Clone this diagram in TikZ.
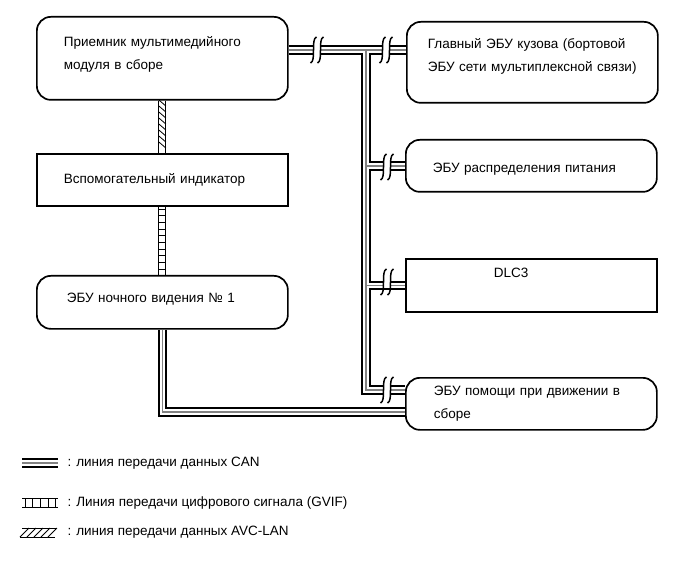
\documentclass[tikz,border=0pt]{standalone}
\usepackage{fontspec}
\setmainfont{Liberation Sans}
\usepackage{tikz}
\definecolor{lgray}{RGB}{130, 130, 130}

\tikzset{
	box/.style = {draw, line width = 1.7pt, anchor = north west, minimum width = 251pt, align = left, font = \fontsize{13.5}{23.5}\selectfont},
	rbox/.style = {box, rounded corners = 14pt},
	txt/.style = {anchor = west, font = \fontsize{13.5}{16}\selectfont},
	canout/.style = {line width = 9.4pt, draw = black},
	canmid/.style = {line width = 5.4pt, draw = white},
	cancore/.style = {line width = 1.4pt, draw = lgray}
}

% CAN bus, drawn in three passes so the junctions merge
\newcommand{\canlines}[1]{
	\draw[#1] (rcv.east |- bt) -- (body.west |- bt);
	\draw[#1] (bt) |- (asst.west |- ab);
	\draw[#1] (bt |- pwr.west) -- (pwr.west);
	\draw[#1] (bt |- dlc.west) -- (dlc.west);
	\draw[#1] (nv.south) |- (asst.west |- nb);
}

\begin{document}
\begin{tikzpicture}[x = 1pt, y = -1pt]
			\useasboundingbox (0,0) rectangle (691,564);
			\node (rcv) at (36,16) [rbox, text width = 197pt, inner xsep = 27pt, minimum height = 83pt, text depth = 34.5pt] {Приемник мультимедийного\\модуля в сборе};
			\node (aux) at (36,153) [box, text width = 197pt, inner xsep = 27pt, minimum height = 52pt] {Вспомогательный индикатор};
			\node (nv) at (36,275) [rbox, text width = 191pt, inner xsep = 30pt, minimum height = 53pt, text depth = 9pt] {ЭБУ ночного видения № 1};
			\node (body) at (406,21) [rbox, text width = 209pt, inner xsep = 21pt, minimum height = 81pt, text depth = 38.5pt] {Главный ЭБУ кузова (бортовой\\ЭБУ сети мультиплексной связи)};
			\node (pwr) at (405,139) [rbox, text width = 197pt, inner xsep = 27pt, minimum height = 52pt, text height = 17pt] {ЭБУ распределения питания};
			\node (dlc) at (405,258) [box, text width = 197pt, inner xsep = 27pt, minimum height = 53pt, text depth = 25pt] {\hspace*{61pt}DLC3};
			\node (asst) at (405,377) [rbox, text width = 195pt, inner xsep = 28pt, minimum height = 52pt] {ЭБУ помощи при движении в\\сборе};

			\coordinate (bt) at (366,50);
			\coordinate (ab) at (0,390);
			\coordinate (nb) at (0,412);

			\canlines{canout}
			\canlines{canmid}
			\canlines{cancore}

			% breaks in the CAN lines
			\foreach \bx/\by in {317/50, 386/50, 387/167, 387/282, 387/390} {
				\fill[white] (\bx-3.5,\by-5.5) rectangle (\bx+3.5,\by+5.5);
				\foreach \d in {-3.5, 3.5}
					\draw[line width = 1.5pt] (\bx+\d+3,\by-13) .. controls (\bx+\d-3,\by-11) and (\bx+\d+3,\by+11) .. (\bx+\d-3,\by+13);
			}

			% AVC-LAN
			\draw[line width = 0.8pt] (rcv.south) ++(-3.5,0) coordinate (a1) -- (a1 |- aux.north);
			\draw[line width = 0.8pt] (rcv.south) ++(3.5,0) coordinate (a2) -- (a2 |- aux.north);
			\foreach \y in {100,106,...,146}
				\draw[line width = 0.8pt] (a1 |- 0,\y) -- (a2 |- 0,\y+6);

			% GVIF
			\draw[line width = 0.8pt] (aux.south) ++(-3.5,0) coordinate (g1) -- (g1 |- nv.north);
			\draw[line width = 0.8pt] (aux.south) ++(3.5,0) coordinate (g2) -- (g2 |- nv.north);
			\foreach \y in {209,215.7,...,272}
				\draw[line width = 0.8pt] (g1 |- 0,\y) -- (g2 |- 0,\y);

			% legend
			\draw[line width = 1.8pt] (22,459) -- (58,459);
			\draw[line width = 1.1pt, lgray] (22,463) -- (58,463);
			\draw[line width = 1.8pt] (22,467) -- (58,467);
			\node (l1) at (64,463) [txt] {: линия передачи данных CAN};

			\draw[line width = 0.9pt] (22,498) -- (58,498);
			\draw[line width = 0.9pt] (22,507) -- (58,507);
			\foreach \x in {25,32,40,48,55}
				\draw[line width = 0.9pt] (\x,498) -- (\x,507);
			\node (l2) at (64,503) [txt] {: Линия передачи цифрового сигнала (GVIF)};

			\draw[line width = 0.9pt] (22,528) -- (57,528);
			\draw[line width = 0.9pt] (20,537) -- (55,537);
			\foreach \x in {20,27,...,48}
				\draw[line width = 0.9pt] (\x,537) -- (\x+9,528);
			\node (l3) at (64,532) [txt] {: линия передачи данных AVC-LAN};
			\end{tikzpicture}
\end{document}
